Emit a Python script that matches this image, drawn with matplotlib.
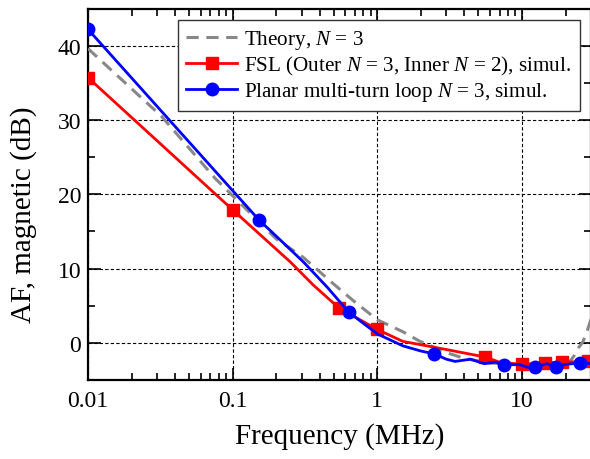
import matplotlib
matplotlib.use("Agg")
import matplotlib.pyplot as plt
from matplotlib.ticker import FixedLocator, FixedFormatter, LogLocator, NullFormatter, MultipleLocator

plt.rcParams['font.family'] = ['Liberation Serif', 'DejaVu Serif']
plt.rcParams['mathtext.fontset'] = 'custom'
plt.rcParams['mathtext.rm'] = 'Liberation Serif'
plt.rcParams['mathtext.it'] = 'Liberation Serif:italic'

# Theory curve (gray dashed)
theory_f = [0.01, 0.02, 0.0322, 0.05, 0.076, 0.1, 0.2, 0.308, 0.5, 0.69, 1.0, 1.5, 1.97, 3.1, 4.0, 6.0,
            10.0, 15.0, 20.0, 21.5, 23.0, 24.5, 26.3, 27.9, 30.0]
theory_v = [39.6, 34.2, 30.5, 26.2, 22.1, 19.8, 14.0, 11.5, 7.9, 5.6, 3.1, 1.5, 0.2, -1.4, -2.1, -2.7,
            -3.0, -3.0, -2.9, -2.5, -1.7, -0.7, 0.1, 1.3, 3.2]

# FSL simulation (red line, square markers)
fsl_f = [0.01, 0.1, 0.25, 0.36, 0.542, 1.0, 1.5, 2.65, 5.54, 7.0, 10.0, 14.4, 19.0, 28.7, 30.0]
fsl_v = [35.7, 17.9, 10.9, 7.8, 4.7, 1.8, 0.2, -0.7, -1.9, -2.6, -2.9, -2.7, -2.6, -2.5, -2.5]
fsl_mark_f = [0.01, 0.1, 0.542, 1.0, 5.54, 10.0, 14.4, 19.0, 28.7]
fsl_mark_v = [35.7, 17.9, 4.7, 1.8, -1.9, -2.9, -2.7, -2.6, -2.5]

# Planar multi-turn loop simulation (blue line, circle markers)
loop_f = [0.01, 0.151, 0.22, 0.308, 0.45, 0.637, 1.0, 1.5, 2.0, 2.48, 3.0, 3.45, 4.4, 5.48, 6.6, 7.5, 9.5,
          11.0, 12.4, 14.8, 17.2, 20.0, 25.2, 30.0]
loop_v = [42.2, 16.6, 13.6, 10.9, 7.5, 4.1, 1.2, -0.4, -1.1, -1.5, -2.2, -2.5, -2.2, -2.8, -2.6, -3.0, -2.9,
          -3.3, -3.3, -2.8, -3.2, -2.9, -2.7, -2.8]
loop_mark_f = [0.01, 0.151, 0.637, 2.48, 7.5, 12.4, 17.2, 25.2]
loop_mark_v = [42.2, 16.6, 4.1, -1.5, -3.0, -3.3, -3.2, -2.7]

xticks = [0.01, 0.1, 1, 10]
xticklabels = ['0.01', '0.1', '1', '10']
yticks = [0, 10, 20, 30, 40]

fig = plt.figure(figsize=(5.9, 4.6), dpi=100)
ax = fig.add_axes([88/590, 1-381/460, 503/590, (381-9.5)/460])

ax.plot(theory_f, theory_v, color='#888888', lw=2.2, ls=(0, (4, 2.5)), zorder=3)
ax.plot(fsl_f, fsl_v, color='#ff0000', lw=2.0, zorder=4)
ax.plot(fsl_mark_f, fsl_mark_v, ls='none', marker='s', ms=8, color='#ff0000', zorder=4)
ax.plot(loop_f, loop_v, color='#0000ff', lw=2.0, zorder=5)
ax.plot(loop_mark_f, loop_mark_v, ls='none', marker='o', ms=9, color='#0000ff', zorder=5)

# legend proxies
h1, = ax.plot([], [], color='#888888', lw=2.2, ls=(0, (4, 2.5)))
h2, = ax.plot([], [], color='#ff0000', lw=2.0, marker='s', ms=8)
h3, = ax.plot([], [], color='#0000ff', lw=2.0, marker='o', ms=9)

ax.set_xscale('log')
ax.set_xlim(0.01, 30)
ax.set_ylim(-5, 45)
ax.xaxis.set_major_locator(FixedLocator(xticks))
ax.xaxis.set_major_formatter(FixedFormatter(xticklabels))
ax.xaxis.set_minor_locator(LogLocator(base=10, subs=range(2, 10)))
ax.xaxis.set_minor_formatter(NullFormatter())
ax.yaxis.set_major_locator(FixedLocator(yticks))
ax.yaxis.set_minor_locator(MultipleLocator(5))

ax.tick_params(which='both', direction='in', top=True, right=True, labelsize=17, width=1.2)
ax.tick_params(which='major', length=9, pad=5)
ax.tick_params(axis='x', which='major', pad=7)
ax.tick_params(which='minor', length=5)
for s in ax.spines.values():
    s.set_linewidth(1.6)

ax.grid(True, which='major', color='black', lw=0.8, ls=(0, (3, 2)))
ax.set_axisbelow(True)

ax.set_xlabel('Frequency (MHz)', fontsize=21, labelpad=8)
ax.set_ylabel('AF, magnetic (dB)', fontsize=21)
ax.yaxis.set_label_coords(-0.101, 0.447)

leg = ax.legend([h1, h2, h3],
                ['Theory, $N$ = 3',
                 'FSL (Outer $N$ = 3, Inner $N$ = 2), simul.',
                 'Planar multi-turn loop $N$ = 3, simul.'],
                loc='upper right', bbox_to_anchor=(0.978, 0.970), fontsize=15.2,
                frameon=True, fancybox=False, framealpha=1, edgecolor='#333333',
                handlelength=2.4, handletextpad=0.35, borderpad=0.4, labelspacing=0.14,
                borderaxespad=0)
leg.get_frame().set_linewidth(1.0)
leg.set_zorder(10)

fig.savefig('out.png', dpi=100)
